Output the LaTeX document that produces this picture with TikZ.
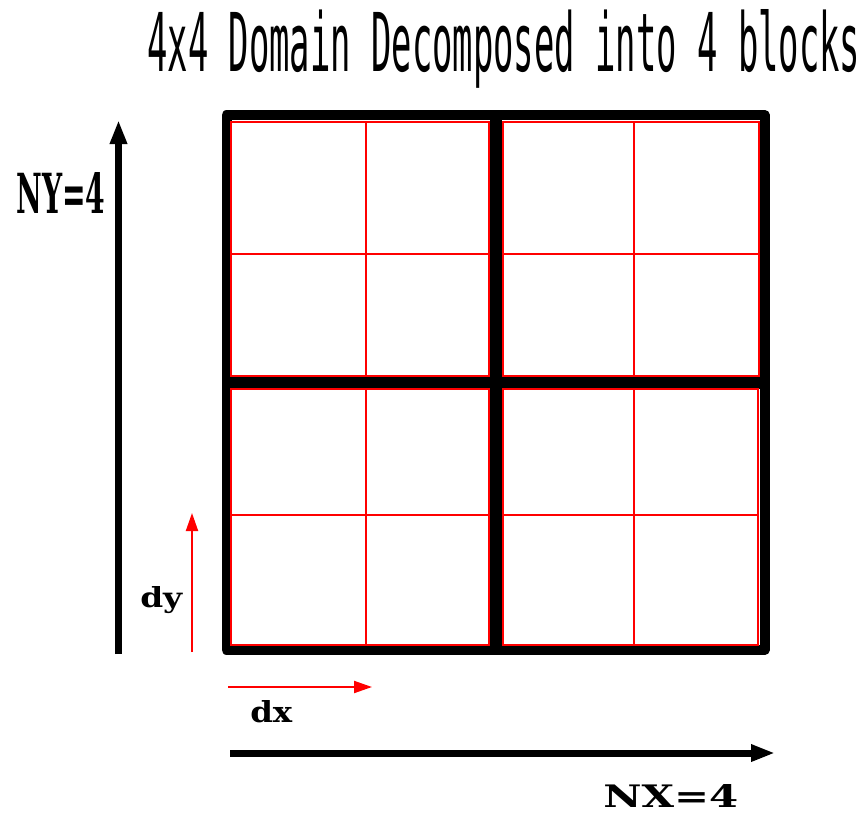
\documentclass[tikz,border=0pt]{standalone}
\usepackage{fontspec}
\usepackage{graphicx}
\usetikzlibrary{arrows.meta}
\newfontfamily\titlefont{DejaVu Sans Mono}
\newfontfamily\labelfont{DejaVu Serif}
\begin{document}
\begin{tikzpicture}[x=0.75pt,y=-0.75pt,
  blk/.style={line width=7.5pt, line join=round},
  mid/.style={line width=9pt},
  redgrid/.style={red, line width=1.1pt},
  bigarrow/.style={line width=5.25pt, -{Triangle[length=18pt,width=12pt]}},
  smallarrow/.style={red, line width=1.5pt, -{Triangle[length=13.5pt,width=9pt]}},
  lbl/.style={inner sep=0pt, anchor=base west}]
\useasboundingbox (0,0) rectangle (862,813);
% title
\node[lbl] (title) at (147,72) {\resizebox{534.75pt}{46.5pt}{\titlefont 4x4 Domain Decomposed into 4 blocks}};
% black domain and block boundaries
\draw[blk] (226.5,115) rectangle (764.5,650);
\draw[mid] (496,115) -- (496,650);
\draw[mid] (226.5,383) -- (764.5,383);
% red cells
\draw[redgrid] (231,122) rectangle (489,376) (366,122) -- (366,376) (231,254) -- (489,254);
\draw[redgrid] (503,122) rectangle (759,376) (634,122) -- (634,376) (503,254) -- (759,254);
\draw[redgrid] (231,389) rectangle (489,645) (366,389) -- (366,645) (231,515) -- (489,515);
\draw[redgrid] (503,389) rectangle (758,645) (634,389) -- (634,645) (503,515) -- (758,515);
% arrows
\coordinate (nyS) at (118.5,654);
\coordinate (nyE) at (118.5,120);
\coordinate (nxS) at (230,753);
\coordinate (nxE) at (775,753);
\coordinate (dyS) at (192,652);
\coordinate (dyE) at (192,513);
\coordinate (dxS) at (228,687);
\coordinate (dxE) at (372,687);
\draw[bigarrow] (nyS) -- (nyE);
\draw[bigarrow] (nxS) -- (nxE);
\draw[smallarrow] (dyS) -- (dyE);
\draw[smallarrow] (dxS) -- (dxE);
% labels
\node[lbl] (ny) at (16,213) {\resizebox{66.75pt}{30.75pt}{\labelfont\bfseries NY=4}};
\node[lbl] (nx) at (603,807) {\resizebox{101.25pt}{17.25pt}{\labelfont\bfseries NX=4}};
\node[lbl] (dy) at (140,607) {\resizebox{31.5pt}{15.75pt}{\labelfont\bfseries dy}};
\node[lbl] (dx) at (250,722) {\resizebox{31.5pt}{16.5pt}{\labelfont\bfseries dx}};
\end{tikzpicture}
\end{document}
